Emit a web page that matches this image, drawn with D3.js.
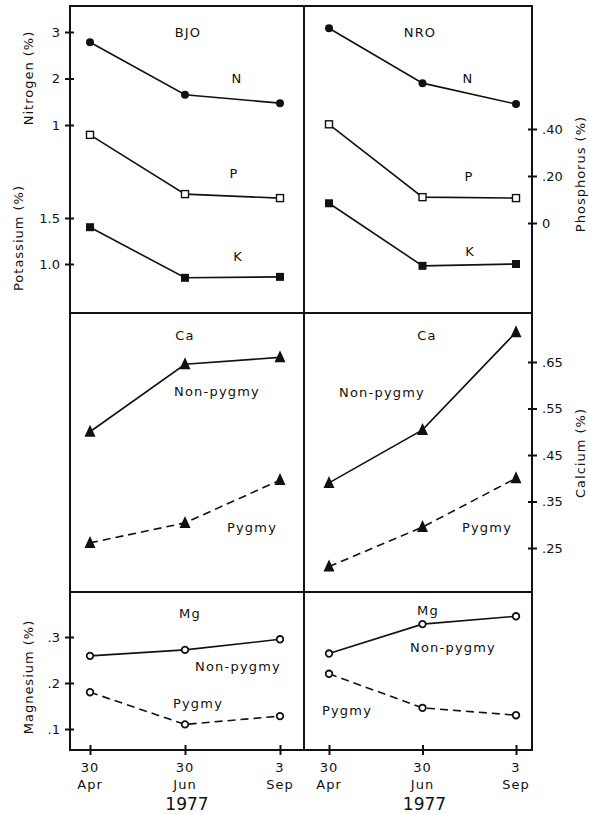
<!DOCTYPE html>
<html>
<head>
<meta charset="utf-8">
<script src="https://cdn.jsdelivr.net/npm/d3@7"></script>
<style>
  body { margin: 0; background: #fff; }
  text { font-family: "DejaVu Sans", sans-serif; fill: #111; }
</style>
</head>
<body>
<svg id="chart" width="589" height="814"></svg>
<script>
// sampling dates (1977)
var dayLabels = ["30", "30", "3"];
var monthLabels = ["Apr", "Jun", "Sep"];
var sites = ["BJO", "NRO"];

// top panel: N, P, K (%)
var nitrogenBJO = [2.78, 1.65, 1.47];
var nitrogenNRO = [3.08, 1.90, 1.45];
var phosphorusBJO = [0.375, 0.123, 0.106];
var phosphorusNRO = [0.42, 0.11, 0.106];
var potassiumBJO = [1.40, 0.85, 0.86];
var potassiumNRO = [1.66, 0.98, 1.00];

// middle panel: Ca (%)
var calciumNonPygmyBJO = [0.50, 0.645, 0.66];
var calciumPygmyBJO = [0.261, 0.304, 0.396];
var calciumNonPygmyNRO = [0.39, 0.504, 0.714];
var calciumPygmyNRO = [0.21, 0.295, 0.40];

// bottom panel: Mg (%)
var magnesiumNonPygmyBJO = [0.259, 0.272, 0.295];
var magnesiumPygmyBJO = [0.18, 0.11, 0.128];
var magnesiumNonPygmyNRO = [0.264, 0.328, 0.345];
var magnesiumPygmyNRO = [0.22, 0.146, 0.13];

// axis ticks
var nitrogenTicks = [1, 2, 3];
var potassiumTicks = [1.0, 1.5];
var phosphorusTicks = [0, 0.2, 0.4];
var calciumTicks = [0.25, 0.35, 0.45, 0.55, 0.65];
var magnesiumTicks = [0.1, 0.2, 0.3];

var svg = d3.select("#chart");

// frame layout
var xL = 70, xM = 304, xR = 532;
var yTop = 6, y1 = 313, y2 = 592, yBot = 750;

var xScale = {
    BJO: d3.scalePoint().domain(monthLabels).range([90, 280]),
    NRO: d3.scalePoint().domain(monthLabels).range([329, 516])
};

var yN = d3.scaleLinear().domain([1, 3]).range([125, 32]);
var yK = d3.scaleLinear().domain([1.0, 1.5]).range([264, 218]);
var yP = d3.scaleLinear().domain([0, 0.4]).range([223, 129]);
var yCa = d3.scaleLinear().domain([0.25, 0.65]).range([548, 362]);
var yMg = d3.scaleLinear().domain([0.1, 0.3]).range([729, 637]);

// ".40" style labels, plain "0" for zero
function noLead(f) {
    return d => d === 0 ? "0" : d3.format(f)(d).replace(/^0\./, ".");
}

// borders
var frame = svg.append("g")
    .attr("stroke", "#111")
    .attr("stroke-width", 2)
    .attr("fill", "none");
frame.append("rect")
    .attr("x", xL).attr("y", yTop)
    .attr("width", xR - xL).attr("height", yBot - yTop);
frame.append("line").attr("x1", xM).attr("x2", xM).attr("y1", yTop).attr("y2", yBot);
frame.append("line").attr("x1", xL).attr("x2", xR).attr("y1", y1).attr("y2", y1);
frame.append("line").attr("x1", xL).attr("x2", xR).attr("y1", y2).attr("y2", y2);

// y axes
function drawAxis(axisFn, scale, ticks, fmt, x) {
    let g = svg.append("g")
        .attr("transform", `translate(${x},0)`)
        .call(axisFn(scale).tickValues(ticks).tickFormat(fmt).tickSize(5).tickPadding(5));
    g.select(".domain").remove();
    g.selectAll(".tick line")
        .attr("stroke", "#111")
        .attr("stroke-width", 2)
        .attr("x1", axisFn === d3.axisLeft ? 4 : -4);
    g.selectAll(".tick text")
        .attr("font-size", 13)
        .attr("font-family", "DejaVu Sans, sans-serif")
        .attr("fill", "#111");
    return g;
}
drawAxis(d3.axisLeft, yN, nitrogenTicks, d3.format("d"), xL);
drawAxis(d3.axisLeft, yK, potassiumTicks, d3.format(".1f"), xL);
drawAxis(d3.axisRight, yP, phosphorusTicks, noLead(".2f"), xR);
drawAxis(d3.axisRight, yCa, calciumTicks, noLead(".2f"), xR);
drawAxis(d3.axisLeft, yMg, magnesiumTicks, noLead(".1f"), xL);

// x axes
sites.forEach(site => {
    let g = svg.append("g")
        .attr("transform", `translate(0,${yBot})`)
        .call(d3.axisBottom(xScale[site]).tickSize(5).tickFormat(""));
    g.select(".domain").remove();
    g.selectAll(".tick line")
        .attr("stroke", "#111").attr("stroke-width", 2)
        .attr("y1", -5);
    monthLabels.forEach((m, i) => {
        let x = xScale[site](m);
        svg.append("text").attr("x", x).attr("y", 772)
            .attr("text-anchor", "middle").attr("font-size", 13)
            .attr("letter-spacing", 1).text(dayLabels[i]);
        svg.append("text").attr("x", x).attr("y", 789)
            .attr("text-anchor", "middle").attr("font-size", 13)
            .attr("letter-spacing", 1).text(m);
    });
    let mid = xScale[site](monthLabels[1]);
    svg.append("text").attr("x", mid + 2).attr("y", 810)
        .attr("text-anchor", "middle").attr("font-size", 17)
        .text("1977");
});

// axis titles
function vTitle(x, y, txt) {
    svg.append("text")
        .attr("transform", `translate(${x},${y}) rotate(-90)`)
        .attr("text-anchor", "middle")
        .attr("font-size", 13)
        .attr("letter-spacing", 1)
        .text(txt);
}
vTitle(33, 78, "Nitrogen (%)");
vTitle(23, 238, "Potassium (%)");
vTitle(585, 174, "Phosphorus (%)");
vTitle(585, 453, "Calcium (%)");
vTitle(33, 677, "Magnesium (%)");

// series
var series = [
    { site: "BJO", y: yN, values: nitrogenBJO, marker: "dot", dash: false },
    { site: "NRO", y: yN, values: nitrogenNRO, marker: "dot", dash: false },
    { site: "BJO", y: yP, values: phosphorusBJO, marker: "openSquare", dash: false },
    { site: "NRO", y: yP, values: phosphorusNRO, marker: "openSquare", dash: false },
    { site: "BJO", y: yK, values: potassiumBJO, marker: "square", dash: false },
    { site: "NRO", y: yK, values: potassiumNRO, marker: "square", dash: false },
    { site: "BJO", y: yCa, values: calciumNonPygmyBJO, marker: "triangle", dash: false },
    { site: "BJO", y: yCa, values: calciumPygmyBJO, marker: "triangle", dash: true },
    { site: "NRO", y: yCa, values: calciumNonPygmyNRO, marker: "triangle", dash: false },
    { site: "NRO", y: yCa, values: calciumPygmyNRO, marker: "triangle", dash: true },
    { site: "BJO", y: yMg, values: magnesiumNonPygmyBJO, marker: "ring", dash: false },
    { site: "BJO", y: yMg, values: magnesiumPygmyBJO, marker: "ring", dash: true },
    { site: "NRO", y: yMg, values: magnesiumNonPygmyNRO, marker: "ring", dash: false },
    { site: "NRO", y: yMg, values: magnesiumPygmyNRO, marker: "ring", dash: true }
];

var plot = svg.append("g");
series.forEach(s => {
    let pts = s.values.map((v, i) => [xScale[s.site](monthLabels[i]), s.y(v)]);
    plot.append("path")
        .attr("d", d3.line()(pts))
        .attr("fill", "none")
        .attr("stroke", "#111")
        .attr("stroke-width", 1.6)
        .attr("stroke-dasharray", s.dash ? "8,5" : null);
    let m = plot.selectAll(null).data(pts).join("g")
        .attr("transform", d => `translate(${d[0]},${d[1]})`);
    if (s.marker === "dot") {
        m.append("circle").attr("r", 4).attr("fill", "#111");
    } else if (s.marker === "ring") {
        m.append("circle").attr("r", 3.3).attr("fill", "#fff")
            .attr("stroke", "#111").attr("stroke-width", 1.8);
    } else if (s.marker === "square") {
        m.append("rect").attr("x", -4).attr("y", -4).attr("width", 8).attr("height", 8)
            .attr("fill", "#111");
    } else if (s.marker === "openSquare") {
        m.append("rect").attr("x", -3.5).attr("y", -3.5).attr("width", 7).attr("height", 7)
            .attr("fill", "#fff").attr("stroke", "#111").attr("stroke-width", 1.4);
    } else if (s.marker === "triangle") {
        m.append("path").attr("d", "M0,-7L5.5,5L-5.5,5Z").attr("fill", "#111");
    }
});

// in-panel labels
var labels = [
    ["BJO", 188, 37], ["NRO", 420, 37],
    ["N", 237, 83], ["N", 468, 83],
    ["P", 234, 178], ["P", 469, 181],
    ["K", 238, 261], ["K", 470, 256],
    ["Ca", 185, 340], ["Ca", 427, 340],
    ["Non-pygmy", 217, 396], ["Non-pygmy", 382, 397],
    ["Pygmy", 252, 532], ["Pygmy", 487, 532],
    ["Mg", 190, 618], ["Mg", 428, 615],
    ["Non-pygmy", 238, 671], ["Non-pygmy", 453, 652],
    ["Pygmy", 198, 708], ["Pygmy", 347, 715]
];
svg.append("g").selectAll("text").data(labels).join("text")
    .attr("x", d => d[1])
    .attr("y", d => d[2])
    .attr("text-anchor", "middle")
    .attr("font-size", 13)
    .attr("letter-spacing", 1.2)
    .text(d => d[0]);
</script>
</body>
</html>
